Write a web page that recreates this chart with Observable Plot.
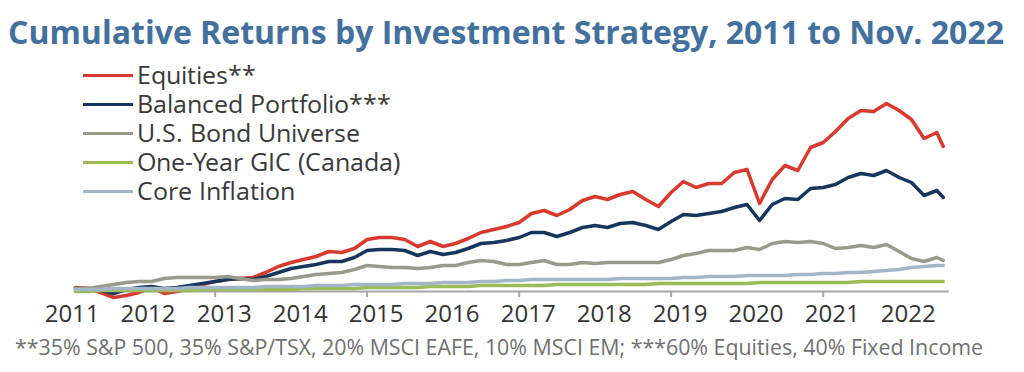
<!DOCTYPE html>
<html><head><meta charset="utf-8">
<script src="https://cdn.jsdelivr.net/npm/d3@7"></script>
<script src="https://cdn.jsdelivr.net/npm/@observablehq/plot@0.6"></script>
<style>
@font-face{font-family:"OpenSansTight";src:local("Open Sans"),local("OpenSans-Regular"),local("Open Sans Regular");ascent-override:88%;descent-override:22%;line-gap-override:0%;}
body{margin:0;background:#fff;width:1024px;height:372px;overflow:hidden;position:relative;font-family:"Open Sans",sans-serif;}
#title{position:absolute;left:8px;top:12px;font-weight:700;font-size:32px;color:#44709d;white-space:nowrap;transform-origin:0 0;line-height:40px}
#chart{position:absolute;left:0;top:60px}
#legend{position:absolute;left:83px;top:61px}
.item{display:flex;align-items:center;height:29.1px}
.sw{width:50px;height:3px;margin-right:4px}
.lab{font-family:"OpenSansTight","Open Sans",sans-serif;font-size:25px;color:#3a3a3a;font-weight:400;line-height:28px;white-space:nowrap}
#note{position:absolute;left:15px;top:333px;font-size:21px;color:#707070;white-space:nowrap;transform-origin:0 0;line-height:28px}
</style></head><body>
<div id="title">Cumulative Returns by Investment Strategy, 2011 to Nov. 2022</div>
<div id="chart"></div>
<div id="legend"></div>
<div id="note">**35% S&amp;P 500, 35% S&amp;P/TSX, 20% MSCI EAFE, 10% MSCI EM; ***60% Equities, 40% Fixed Income</div>
<script>
const dates = ["2011-03","2011-05","2011-07","2011-09","2011-11",
"2012-01","2012-03","2012-05","2012-07","2012-09","2012-11",
"2013-01","2013-03","2013-05","2013-07","2013-09","2013-11",
"2014-01","2014-03","2014-05","2014-07","2014-09","2014-11",
"2015-01","2015-03","2015-05","2015-07","2015-09","2015-11",
"2016-01","2016-03","2016-05","2016-07","2016-09","2016-11",
"2017-01","2017-03","2017-05","2017-07","2017-09","2017-11",
"2018-01","2018-03","2018-05","2018-07","2018-09","2018-11",
"2019-01","2019-03","2019-05","2019-07","2019-09","2019-11",
"2020-01","2020-03","2020-05","2020-07","2020-09","2020-11",
"2021-01","2021-03","2021-05","2021-07","2021-09","2021-11",
"2022-01","2022-03","2022-05","2022-07","2022-08"];

const seriesNames = ["Equities**","Balanced Portfolio***","U.S. Bond Universe","One-Year GIC (Canada)","Core Inflation"];
const seriesColors = ["#d93a30","#17365d","#9a9a8c","#9bbb59","#a2b6c8"];

const equities = [4,3,-1,-6,-4,-1,4,-2,0,3, 7,10,12,13,14,19,25,29,32,35, 40,39,43,52,54,54,52,45,50,45, 48,53,59,62,65,69,78,81,76,82, 91,95,92,97,100,92,85,99,110,104, 108,108,119,122,88,112,126,121,144,149, 160,173,181,180,188,181,172,153,159,145];
const balanced = [3,3,1,-2,2,4,5,3,4,6, 8,10,12,13,12,15,19,23,25,27, 30,30,34,41,42,42,41,36,40,37, 39,43,48,49,51,54,59,59,55,59, 64,66,64,68,69,66,62,70,77,76, 78,80,84,87,71,87,93,92,103,104, 107,114,118,116,121,114,109,96,101,94];
const bonds = [3,3,5,7,9,10,10,13,14,14, 14,14,15,13,11,12,12,13,15,17, 18,19,22,26,25,24,24,23,24,26, 26,29,31,30,27,27,29,31,27,27, 29,28,29,29,29,29,29,32,36,38, 41,41,41,44,42,48,50,49,50,48, 43,44,46,44,47,40,33,30,34,31];
const gic = [0,0,1,1,1,1, 1,1,1,1,2,2, 2,2,2,2,2,2, 3,3,3,3,3,4, 4,4,4,4,5,5, 5,5,6,6,6,6, 6,6,7,7,7,7, 7,7,7,7,8,8, 8,8,8,8,8,8, 9,9,9,9,9,9, 9,9,10,10,10,10, 10,10,10,10];
const inflation = [2,2,2,3,3,3, 3,3,3,4,4,4, 4,4,4,5,5,5, 5,6,6,6,7,7, 7,7,8,8,8,9, 9,9,10,10,11,11, 12,12,12,12,12,12, 12,13,13,13,13,13, 14,14,15,15,15,16, 16,16,16,17,17,18, 18,19,19,20,21,22, 24,25,26,26];

const labelYears = ["2011","2012","2013","2014","2015","2016","2017","2018","2019","2020","2021","2022"];
const tickYears = ["2013","2015","2017","2019","2021"];

const parse = d3.utcParse("%Y-%m");
const parseY = d3.utcParse("%Y");
const allValues = [equities, balanced, bonds, gic, inflation];
const tidy = [];
seriesNames.forEach((name, s) => {
  allValues[s].forEach((v, i) => tidy.push({series: name, date: parse(dates[i]), value: v}));
});
const first = parse(dates[0]), last = parse(dates[dates.length - 1]);

const chart = Plot.plot({
  width: 1024,
  height: 270,
  marginLeft: 62.6,
  marginRight: 49.4,
  marginTop: 0,
  marginBottom: 39,
  style: {fontFamily: "'Open Sans', sans-serif", background: "transparent", overflow: "visible"},
  x: {type: "utc", domain: [parseY("2011"), parseY("2023")], axis: null},
  y: {domain: [0, 231], axis: null},
  color: {domain: seriesNames, range: seriesColors},
  marks: [
    Plot.ruleY([0], {x1: first, x2: last, stroke: "#a6a6a6", strokeWidth: 2, insetLeft: -1, insetRight: -6}),
    Plot.axisX(tickYears.map(parseY), {tickSize: 6, tickFormat: () => "", color: "#a6a6a6", strokeWidth: 2}),
    Plot.axisX(labelYears.map(parseY), {tickSize: 0, tickPadding: 13, dx: 9, fontSize: 24, tickFormat: "%Y", color: "#333333"}),
    Plot.line(tidy, {x: "date", y: "value", z: "series", stroke: "series", strokeWidth: 3.5, strokeLinejoin: "round", strokeLinecap: "round"})
  ]
});
document.getElementById("chart").appendChild(chart);

const legend = document.getElementById("legend");
seriesNames.forEach((name, i) => {
  const item = document.createElement("div");
  item.className = "item";
  const sw = document.createElement("div");
  sw.className = "sw";
  sw.style.background = seriesColors[i];
  const lab = document.createElement("span");
  lab.className = "lab";
  lab.textContent = name;
  item.appendChild(sw); item.appendChild(lab);
  legend.appendChild(item);
});

function fit(id, target) {
  const el = document.getElementById(id);
  const w = el.getBoundingClientRect().width;
  el.style.transform = `scaleX(${target / w})`;
}
fit("title", 996);
fit("note", 968);
</script>
</body></html>
